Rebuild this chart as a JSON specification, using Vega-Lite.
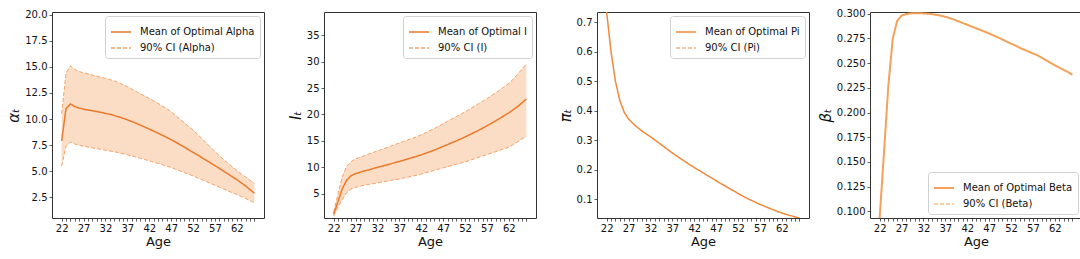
{
"$schema": "https://vega.github.io/schema/vega-lite/v6.json",
"padding": {"left": 6, "top": 8, "right": 0, "bottom": 0},
"background": "white",
"config": {
 "font": "DejaVu Sans",
 "view": {"stroke": "#333333", "strokeWidth": 1},
 "axis": {"domain": false, "grid": false, "tickColor": "#333333", "tickWidth": 0.8, "tickSize": 3, "labelFontSize": 10, "labelColor": "#111111", "labelFont": "DejaVu Sans", "titleFont": "DejaVu Sans", "titleFontWeight": "normal", "titleColor": "#111111", "labelPadding": 2, "labelOverlap": false},
 "legend": {"symbolType": "stroke", "symbolSize": 400, "symbolStrokeWidth": 1.5, "labelFontSize": 10, "labelFont": "DejaVu Sans", "labelColor": "#111111", "strokeColor": "#d0d0d0", "fillColor": "#ffffff", "cornerRadius": 3, "padding": 5, "rowPadding": -5, "labelOffset": 8, "offset": 4}
},
"datasets": {
 "alpha": [
  {"age":22,"mean":7.9,"lo":5.5,"hi":10.5},{"age":23,"mean":11.0,"lo":7.4,"hi":14.4},{"age":24,"mean":11.45,"lo":7.8,"hi":15.1},{"age":25,"mean":11.2,"lo":7.62,"hi":14.75},{"age":26,"mean":11.05,"lo":7.5,"hi":14.55},{"age":27,"mean":10.95,"lo":7.4,"hi":14.42},{"age":28,"mean":10.87,"lo":7.32,"hi":14.33},{"age":29,"mean":10.8,"lo":7.25,"hi":14.22},{"age":30,"mean":10.72,"lo":7.18,"hi":14.1},{"age":31,"mean":10.64,"lo":7.1,"hi":14.0},{"age":32,"mean":10.55,"lo":7.02,"hi":13.9},{"age":33,"mean":10.45,"lo":6.95,"hi":13.78},{"age":34,"mean":10.34,"lo":6.87,"hi":13.65},{"age":35,"mean":10.22,"lo":6.78,"hi":13.5},{"age":36,"mean":10.08,"lo":6.68,"hi":13.3},{"age":37,"mean":9.93,"lo":6.58,"hi":13.1},{"age":38,"mean":9.77,"lo":6.47,"hi":12.88},{"age":39,"mean":9.6,"lo":6.36,"hi":12.65},{"age":40,"mean":9.42,"lo":6.24,"hi":12.42},{"age":41,"mean":9.23,"lo":6.12,"hi":12.2},{"age":42,"mean":9.04,"lo":6.0,"hi":11.98},{"age":43,"mean":8.85,"lo":5.88,"hi":11.75},{"age":44,"mean":8.65,"lo":5.76,"hi":11.5},{"age":45,"mean":8.45,"lo":5.63,"hi":11.25},{"age":46,"mean":8.24,"lo":5.5,"hi":11.0},{"age":47,"mean":8.03,"lo":5.36,"hi":10.7},{"age":48,"mean":7.8,"lo":5.2,"hi":10.35},{"age":49,"mean":7.56,"lo":5.04,"hi":10.0},{"age":50,"mean":7.32,"lo":4.88,"hi":9.65},{"age":51,"mean":7.07,"lo":4.72,"hi":9.3},{"age":52,"mean":6.82,"lo":4.56,"hi":8.95},{"age":53,"mean":6.57,"lo":4.38,"hi":8.55},{"age":54,"mean":6.31,"lo":4.2,"hi":8.15},{"age":55,"mean":6.06,"lo":4.02,"hi":7.72},{"age":56,"mean":5.8,"lo":3.84,"hi":7.3},{"age":57,"mean":5.54,"lo":3.66,"hi":6.88},{"age":58,"mean":5.28,"lo":3.48,"hi":6.5},{"age":59,"mean":5.01,"lo":3.3,"hi":6.12},{"age":60,"mean":4.74,"lo":3.12,"hi":5.77},{"age":61,"mean":4.47,"lo":2.94,"hi":5.42},{"age":62,"mean":4.2,"lo":2.77,"hi":5.08},{"age":63,"mean":3.9,"lo":2.58,"hi":4.75},{"age":64,"mean":3.6,"lo":2.4,"hi":4.45},{"age":65,"mean":3.25,"lo":2.2,"hi":4.15},{"age":66,"mean":2.9,"lo":1.97,"hi":3.85}
 ],
 "inv": [
  {"age":22,"mean":1.1,"lo":0.8,"hi":1.5},{"age":23,"mean":3.5,"lo":2.4,"hi":5.0},{"age":24,"mean":6.0,"lo":4.0,"hi":8.3},{"age":25,"mean":7.6,"lo":5.2,"hi":10.2},{"age":26,"mean":8.4,"lo":5.9,"hi":11.1},{"age":27,"mean":8.8,"lo":6.2,"hi":11.6},{"age":28,"mean":9.05,"lo":6.4,"hi":11.9},{"age":29,"mean":9.3,"lo":6.6,"hi":12.2},{"age":30,"mean":9.5,"lo":6.75,"hi":12.5},{"age":31,"mean":9.75,"lo":6.9,"hi":12.8},{"age":32,"mean":10.0,"lo":7.05,"hi":13.1},{"age":33,"mean":10.2,"lo":7.2,"hi":13.4},{"age":34,"mean":10.4,"lo":7.35,"hi":13.7},{"age":35,"mean":10.65,"lo":7.5,"hi":14.0},{"age":36,"mean":10.88,"lo":7.65,"hi":14.3},{"age":37,"mean":11.1,"lo":7.8,"hi":14.6},{"age":38,"mean":11.35,"lo":7.97,"hi":14.9},{"age":39,"mean":11.6,"lo":8.15,"hi":15.2},{"age":40,"mean":11.85,"lo":8.33,"hi":15.5},{"age":41,"mean":12.1,"lo":8.52,"hi":15.8},{"age":42,"mean":12.35,"lo":8.72,"hi":16.15},{"age":43,"mean":12.65,"lo":8.95,"hi":16.55},{"age":44,"mean":12.95,"lo":9.18,"hi":16.95},{"age":45,"mean":13.25,"lo":9.42,"hi":17.35},{"age":46,"mean":13.6,"lo":9.66,"hi":17.8},{"age":47,"mean":13.95,"lo":9.9,"hi":18.25},{"age":48,"mean":14.3,"lo":10.12,"hi":18.7},{"age":49,"mean":14.65,"lo":10.34,"hi":19.15},{"age":50,"mean":15.0,"lo":10.56,"hi":19.6},{"age":51,"mean":15.35,"lo":10.78,"hi":20.05},{"age":52,"mean":15.75,"lo":11.0,"hi":20.5},{"age":53,"mean":16.15,"lo":11.28,"hi":21.0},{"age":54,"mean":16.55,"lo":11.56,"hi":21.5},{"age":55,"mean":16.95,"lo":11.84,"hi":22.0},{"age":56,"mean":17.4,"lo":12.12,"hi":22.5},{"age":57,"mean":17.85,"lo":12.4,"hi":23.0},{"age":58,"mean":18.3,"lo":12.68,"hi":23.55},{"age":59,"mean":18.8,"lo":12.96,"hi":24.1},{"age":60,"mean":19.3,"lo":13.24,"hi":24.7},{"age":61,"mean":19.8,"lo":13.52,"hi":25.3},{"age":62,"mean":20.3,"lo":13.8,"hi":25.9},{"age":63,"mean":20.9,"lo":14.3,"hi":26.7},{"age":64,"mean":21.5,"lo":14.8,"hi":27.6},{"age":65,"mean":22.2,"lo":15.35,"hi":28.6},{"age":66,"mean":22.9,"lo":15.9,"hi":29.6}
 ],
 "pi": [
  {"age":22,"mean":0.734},{"age":23,"mean":0.6},{"age":24,"mean":0.5},{"age":25,"mean":0.435},{"age":26,"mean":0.395},{"age":27,"mean":0.372},{"age":28,"mean":0.357},{"age":29,"mean":0.344},{"age":30,"mean":0.332},{"age":31,"mean":0.322},{"age":32,"mean":0.312},{"age":33,"mean":0.301},{"age":34,"mean":0.29},{"age":35,"mean":0.279},{"age":36,"mean":0.268},{"age":37,"mean":0.257},{"age":38,"mean":0.247},{"age":39,"mean":0.237},{"age":40,"mean":0.227},{"age":41,"mean":0.217},{"age":42,"mean":0.208},{"age":43,"mean":0.199},{"age":44,"mean":0.19},{"age":45,"mean":0.181},{"age":46,"mean":0.172},{"age":47,"mean":0.163},{"age":48,"mean":0.154},{"age":49,"mean":0.146},{"age":50,"mean":0.137},{"age":51,"mean":0.129},{"age":52,"mean":0.12},{"age":53,"mean":0.112},{"age":54,"mean":0.104},{"age":55,"mean":0.097},{"age":56,"mean":0.09},{"age":57,"mean":0.083},{"age":58,"mean":0.077},{"age":59,"mean":0.071},{"age":60,"mean":0.065},{"age":61,"mean":0.059},{"age":62,"mean":0.054},{"age":63,"mean":0.049},{"age":64,"mean":0.045},{"age":65,"mean":0.041},{"age":66,"mean":0.037}
 ],
 "beta": [
  {"age":22,"mean":0.0933},{"age":23,"mean":0.16},{"age":24,"mean":0.228},{"age":25,"mean":0.275},{"age":26,"mean":0.2926},{"age":27,"mean":0.298},{"age":28,"mean":0.2995},{"age":29,"mean":0.3003},{"age":30,"mean":0.3005},{"age":31,"mean":0.3005},{"age":32,"mean":0.3003},{"age":33,"mean":0.3},{"age":34,"mean":0.2995},{"age":35,"mean":0.2988},{"age":36,"mean":0.298},{"age":37,"mean":0.2968},{"age":38,"mean":0.2955},{"age":39,"mean":0.294},{"age":40,"mean":0.2923},{"age":41,"mean":0.2905},{"age":42,"mean":0.2888},{"age":43,"mean":0.287},{"age":44,"mean":0.2853},{"age":45,"mean":0.2835},{"age":46,"mean":0.2818},{"age":47,"mean":0.28},{"age":48,"mean":0.278},{"age":49,"mean":0.276},{"age":50,"mean":0.274},{"age":51,"mean":0.2717},{"age":52,"mean":0.2697},{"age":53,"mean":0.2677},{"age":54,"mean":0.2655},{"age":55,"mean":0.2635},{"age":56,"mean":0.2617},{"age":57,"mean":0.2598},{"age":58,"mean":0.258},{"age":59,"mean":0.2555},{"age":60,"mean":0.2528},{"age":61,"mean":0.2503},{"age":62,"mean":0.2478},{"age":63,"mean":0.2455},{"age":64,"mean":0.2432},{"age":65,"mean":0.241},{"age":66,"mean":0.238}
 ]
},
"spacing": 22,
"resolve": {"scale": {"x": "independent", "y": "independent", "color": "independent", "strokeDash": "independent"}, "axis": {"x": "independent", "y": "independent"}, "legend": {"color": "independent", "strokeDash": "independent"}},
"hconcat": [
 {
  "width": 212, "height": 206,
  "data": {"name": "alpha"},
  "encoding": {
   "x": {"field": "age", "type": "quantitative", "scale": {"domain": [19.8, 68.2], "nice": false, "zero": false}, "axis": {"title": "Age", "values": [22,23,24,25,26,27,28,29,30,31,32,33,34,35,36,37,38,39,40,41,42,43,44,45,46,47,48,49,50,51,52,53,54,55,56,57,58,59,60,61,62,63,64,65,66], "labelExpr": "(datum.value-22)%5==0 ? datum.label : ''", "labelOverlap": false, "labelFlush": false, "titleFontSize": 13, "titlePadding": 2}}
  },
  "layer": [
   {"mark": {"type": "area", "color": "#fbdcc5", "opacity": 1, "clip": true},
    "encoding": {"y": {"field": "lo", "type": "quantitative", "scale": {"domain": [0.53, 20.25], "nice": false, "zero": false}, "axis": {"title": "αₜ", "values": [2.5,5,7.5,10,12.5,15,17.5,20], "format": ".1f", "labelOverlap": false, "titleFontSize": 15, "titleFontStyle": "italic", "titlePadding": 3}}, "y2": {"field": "hi"}}},
   {"transform": [{"fold": ["lo", "hi"], "as": ["key", "val"]}],
    "mark": {"type": "line", "strokeWidth": 1, "clip": true},
    "encoding": {"y": {"field": "val", "type": "quantitative", "axis": {"title": "αₜ", "values": [2.5,5,7.5,10,12.5,15,17.5,20], "format": ".1f", "labelOverlap": false, "titleFontSize": 15, "titleFontStyle": "italic", "titlePadding": 3}},
     "color": {"field": "key", "type": "nominal", "scale": {"domain": ["mean", "lo", "hi"], "range": ["#e97a2b", "#f3a46c", "#f3a46c"]}, "legend": {"title": null, "orient": "top-right", "values": ["mean", "lo"], "labelExpr": "datum.label == 'mean' ? 'Mean of Optimal Alpha' : '90% CI (Alpha)'"}},
     "strokeDash": {"field": "key", "type": "nominal", "scale": {"domain": ["mean", "lo", "hi"], "range": [[1, 0], [4, 2], [4, 2]]}, "legend": {"title": null, "orient": "top-right", "values": ["mean", "lo"], "labelExpr": "datum.label == 'mean' ? 'Mean of Optimal Alpha' : '90% CI (Alpha)'"}}}},
   {"transform": [{"fold": ["mean"], "as": ["key", "val"]}],
    "mark": {"type": "line", "strokeWidth": 1.5, "clip": true},
    "encoding": {"y": {"field": "val", "type": "quantitative", "axis": {"title": "αₜ", "values": [2.5,5,7.5,10,12.5,15,17.5,20], "format": ".1f", "labelOverlap": false, "titleFontSize": 15, "titleFontStyle": "italic", "titlePadding": 3}},
     "color": {"field": "key", "type": "nominal"},
     "strokeDash": {"field": "key", "type": "nominal"}}}
  ]
 },
 {
  "spacing": 20,
  "resolve": {"scale": {"x": "independent", "y": "independent", "color": "independent", "strokeDash": "independent"}, "axis": {"x": "independent", "y": "independent"}, "legend": {"color": "independent", "strokeDash": "independent"}},
  "hconcat": [
   {
    "width": 212, "height": 206,
    "data": {"name": "inv"},
    "encoding": {
     "x": {"field": "age", "type": "quantitative", "scale": {"domain": [19.8, 68.2], "nice": false, "zero": false}, "axis": {"title": "Age", "values": [22,23,24,25,26,27,28,29,30,31,32,33,34,35,36,37,38,39,40,41,42,43,44,45,46,47,48,49,50,51,52,53,54,55,56,57,58,59,60,61,62,63,64,65,66], "labelExpr": "(datum.value-22)%5==0 ? datum.label : ''", "labelOverlap": false, "labelFlush": false, "titleFontSize": 13, "titlePadding": 2}}
    },
    "layer": [
     {"mark": {"type": "area", "color": "#fbdcc5", "opacity": 1, "clip": true},
      "encoding": {"y": {"field": "lo", "type": "quantitative", "scale": {"domain": [0.4, 39.4], "nice": false, "zero": false}, "axis": {"title": "Iₜ", "values": [5,10,15,20,25,30,35], "format": "d", "labelOverlap": false, "titleFontSize": 15, "titleFontStyle": "italic", "titlePadding": 3}}, "y2": {"field": "hi"}}},
     {"transform": [{"fold": ["lo", "hi"], "as": ["key", "val"]}],
      "mark": {"type": "line", "strokeWidth": 1, "clip": true},
      "encoding": {"y": {"field": "val", "type": "quantitative", "axis": {"title": "Iₜ", "values": [5,10,15,20,25,30,35], "format": "d", "labelOverlap": false, "titleFontSize": 15, "titleFontStyle": "italic", "titlePadding": 3}},
       "color": {"field": "key", "type": "nominal", "scale": {"domain": ["mean", "lo", "hi"], "range": ["#e97a2b", "#f3a46c", "#f3a46c"]}, "legend": {"title": null, "orient": "top-right", "values": ["mean", "lo"], "labelExpr": "datum.label == 'mean' ? 'Mean of Optimal I' : '90% CI (I)'"}},
       "strokeDash": {"field": "key", "type": "nominal", "scale": {"domain": ["mean", "lo", "hi"], "range": [[1, 0], [4, 2], [4, 2]]}, "legend": {"title": null, "orient": "top-right", "values": ["mean", "lo"], "labelExpr": "datum.label == 'mean' ? 'Mean of Optimal I' : '90% CI (I)'"}}}},
     {"transform": [{"fold": ["mean"], "as": ["key", "val"]}],
      "mark": {"type": "line", "strokeWidth": 1.5, "clip": true},
      "encoding": {"y": {"field": "val", "type": "quantitative", "axis": {"title": "Iₜ", "values": [5,10,15,20,25,30,35], "format": "d", "labelOverlap": false, "titleFontSize": 15, "titleFontStyle": "italic", "titlePadding": 3}},
       "color": {"field": "key", "type": "nominal"},
       "strokeDash": {"field": "key", "type": "nominal"}}}
    ]
   },
   {
    "spacing": 7,
    "resolve": {"scale": {"x": "independent", "y": "independent", "color": "independent", "strokeDash": "independent"}, "axis": {"x": "independent", "y": "independent"}, "legend": {"color": "independent", "strokeDash": "independent"}},
    "hconcat": [
     {
      "width": 212, "height": 206,
      "data": {"name": "pi"},
      "transform": [{"fold": ["mean"], "as": ["key", "val"]}],
      "mark": {"type": "line", "strokeWidth": 1.5, "clip": true},
      "encoding": {
       "x": {"field": "age", "type": "quantitative", "scale": {"domain": [19.8, 68.2], "nice": false, "zero": false}, "axis": {"title": "Age", "values": [22,23,24,25,26,27,28,29,30,31,32,33,34,35,36,37,38,39,40,41,42,43,44,45,46,47,48,49,50,51,52,53,54,55,56,57,58,59,60,61,62,63,64,65,66], "labelExpr": "(datum.value-22)%5==0 ? datum.label : ''", "labelOverlap": false, "labelFlush": false, "titleFontSize": 13, "titlePadding": 2}},
       "y": {"field": "val", "type": "quantitative", "scale": {"domain": [0.037, 0.734], "nice": false, "zero": false}, "axis": {"title": "πₜ", "values": [0.1,0.2,0.3,0.4,0.5,0.6,0.7], "format": ".1f", "labelOverlap": false, "titleFontSize": 15, "titleFontStyle": "italic", "titlePadding": 3}},
       "color": {"field": "key", "type": "nominal", "scale": {"domain": ["mean", "ci"], "range": ["#f0893c", "#f5b27e"]}, "legend": {"title": null, "orient": "top-right", "labelExpr": "datum.label == 'mean' ? 'Mean of Optimal Pi' : '90% CI (Pi)'"}},
       "strokeDash": {"field": "key", "type": "nominal", "scale": {"domain": ["mean", "ci"], "range": [[1, 0], [4, 2]]}, "legend": {"title": null, "orient": "top-right", "labelExpr": "datum.label == 'mean' ? 'Mean of Optimal Pi' : '90% CI (Pi)'"}}
      }
     },
     {
      "width": 212, "height": 206,
      "data": {"name": "beta"},
      "transform": [{"fold": ["mean"], "as": ["key", "val"]}],
      "mark": {"type": "line", "strokeWidth": 2, "clip": true},
      "encoding": {
       "x": {"field": "age", "type": "quantitative", "scale": {"domain": [19.8, 68.2], "nice": false, "zero": false}, "axis": {"title": "Age", "values": [22,23,24,25,26,27,28,29,30,31,32,33,34,35,36,37,38,39,40,41,42,43,44,45,46,47,48,49,50,51,52,53,54,55,56,57,58,59,60,61,62,63,64,65,66], "labelExpr": "(datum.value-22)%5==0 ? datum.label : ''", "labelOverlap": false, "labelFlush": false, "titleFontSize": 13, "titlePadding": 2}},
       "y": {"field": "val", "type": "quantitative", "scale": {"domain": [0.0933, 0.3017], "nice": false, "zero": false}, "axis": {"title": "βₜ", "values": [0.1,0.125,0.15,0.175,0.2,0.225,0.25,0.275,0.3], "format": ".3f", "labelOverlap": false, "titleFontSize": 15, "titleFontStyle": "italic", "titlePadding": 3}},
       "color": {"field": "key", "type": "nominal", "scale": {"domain": ["mean", "ci"], "range": ["#f4a15a", "#fbcfa6"]}, "legend": {"title": null, "orient": "bottom-right", "symbolStrokeWidth": 2, "labelExpr": "datum.label == 'mean' ? 'Mean of Optimal Beta' : '90% CI (Beta)'"}},
       "strokeDash": {"field": "key", "type": "nominal", "scale": {"domain": ["mean", "ci"], "range": [[1, 0], [4, 2]]}, "legend": {"title": null, "orient": "bottom-right", "symbolStrokeWidth": 2, "labelExpr": "datum.label == 'mean' ? 'Mean of Optimal Beta' : '90% CI (Beta)'"}}
      }
     }
    ]
   }
  ]
 }
]
}
